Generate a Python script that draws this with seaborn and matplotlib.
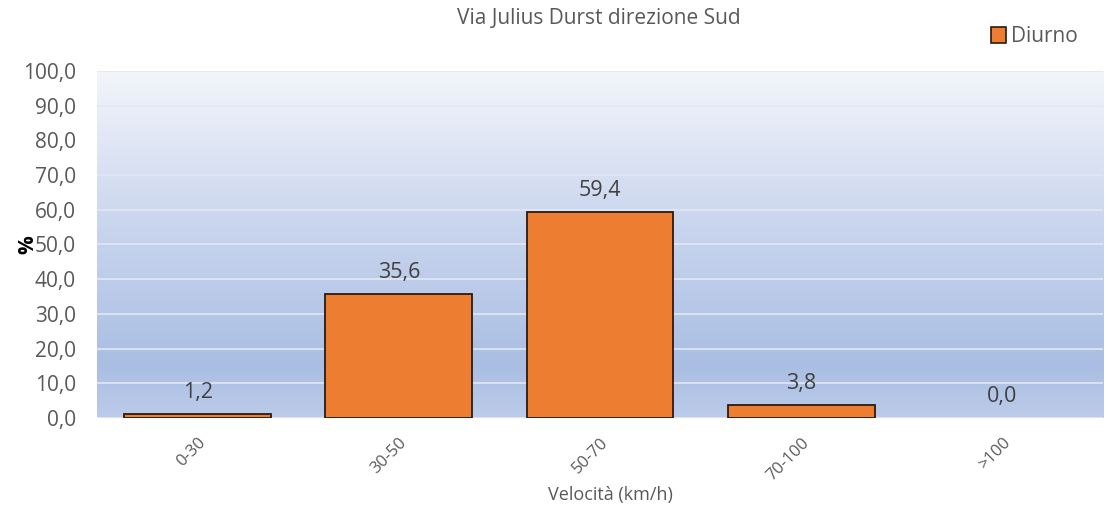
import numpy as np
import pandas as pd
import seaborn as sns
import matplotlib.pyplot as plt
from matplotlib.colors import LinearSegmentedColormap
from matplotlib.patches import Patch

# dati
fasce = ["0-30", "30-50", "50-70", "70-100", ">100"]
diurno = [1.2, 35.6, 59.4, 3.8, 0.0]

data = pd.DataFrame({"velocita": fasce, "percentuale": diurno})

sns.set_style("white")
plt.rcParams['font.family'] = ['Open Sans', 'DejaVu Sans']

fig = plt.figure(figsize=(11.08, 5.09), dpi=100)
ax = fig.add_axes([0.0875, 0.179, 0.908, 0.6815])

# sfondo sfumato
cmap = LinearSegmentedColormap.from_list(
    "sfondo", [(0.0, "#bccbe9"), (0.15, "#aabee3"), (0.55, "#c9d5ee"), (1.0, "#f3f5fb")])
grad = np.linspace(0, 1, 256).reshape(-1, 1)
ax.imshow(grad, extent=[0, 1, 0, 1], transform=ax.transAxes, aspect="auto",
          cmap=cmap, origin="lower", zorder=0)

sns.barplot(x="velocita", y="percentuale", data=data, color="#ed7d31",
            edgecolor="#2b1a0e", linewidth=1.3, width=0.73, saturation=1, ax=ax, zorder=3)

# nessun bordo per le barre a zero
for p, v in zip(ax.patches, diurno):
    if v == 0:
        p.set_linewidth(0)

ax.set_ylim(0, 100)
ax.set_xlim(-0.5, 4.5)
ax.set_yticks(np.arange(0, 101, 10))
ax.set_yticklabels([f"{v:.1f}".replace(".", ",") for v in np.arange(0, 101, 10)],
                   fontsize=15, color="#595959")
ax.set_xticks(range(len(fasce)))
ax.set_xticklabels(fasce, rotation=45, ha="right", va="top", rotation_mode="anchor",
                   fontsize=12, color="#595959")
ax.tick_params(axis="both", length=0)
ax.tick_params(axis="x", pad=12)
ax.tick_params(axis="y", pad=15)
ax.grid(axis="y", color="#e2e7f2", linewidth=1.2, zorder=1)
ax.set_axisbelow(True)
for s in ax.spines.values():
    s.set_visible(False)

for c in ax.containers:
    ax.bar_label(c, labels=[f"{v:.1f}".replace(".", ",") for v in diurno],
                 padding=8, fontsize=15.5, color="#404040")

ax.set_xlabel("Velocità (km/h)", fontsize=13, color="#595959")
ax.xaxis.set_label_coords(0.51, -0.195)
ax.set_ylabel("%", fontsize=15, fontweight="bold", color="black")
ax.yaxis.set_label_coords(-0.058, 0.5)

fig.suptitle("Via Julius Durst direzione Sud", x=0.54, y=0.985, fontsize=15, color="#595959")

fig.legend(handles=[Patch(facecolor="#ed7d31", edgecolor="#2b1a0e", linewidth=1.2, label="Diurno")],
           loc="upper right", bbox_to_anchor=(0.99, 0.985), frameon=False, fontsize=15,
           handlelength=0.75, handleheight=0.75, handletextpad=0.25, labelcolor="#595959")

fig.savefig("out.png", dpi=100)
